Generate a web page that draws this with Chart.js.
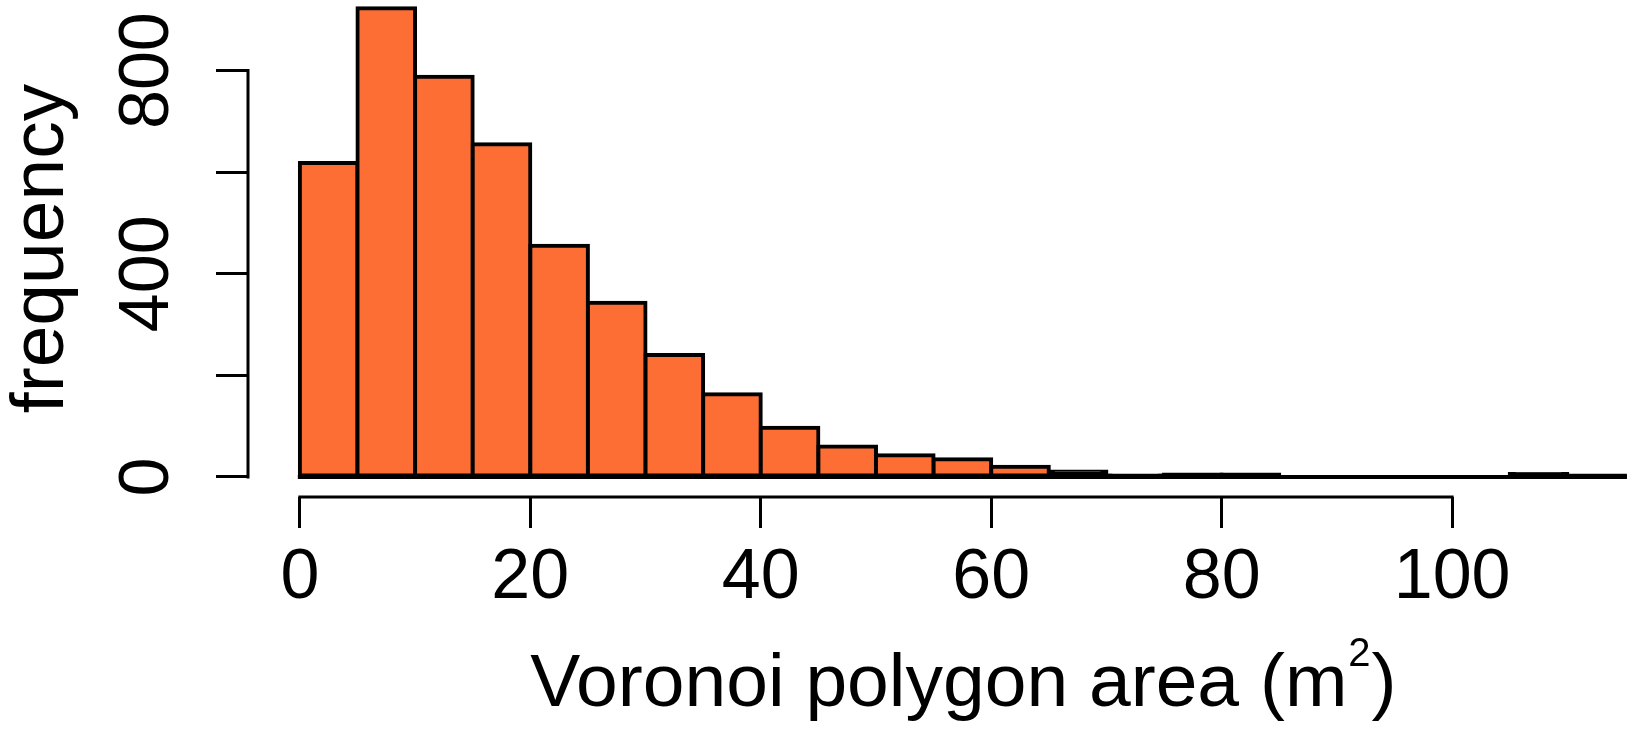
<!DOCTYPE html>
<html>
<head>
<meta charset="utf-8">
<title>Voronoi polygon area</title>
<script src="https://cdn.jsdelivr.net/npm/chart.js@4.4.1/dist/chart.umd.min.js"></script>
<style>
    body { margin: 0; background: #fff; }
    canvas { display: block; }
</style>
</head>
<body>
<canvas id="chart" width="1633" height="729"></canvas>
<script>
// histogram bins, 5 m2 wide
const binWidth = 5;
const binStarts = [0, 5, 10, 15, 20, 25, 30, 35, 40, 45, 50, 55, 60, 65, 70, 75, 80, 85, 90, 95, 100, 105, 110];
const counts = [618, 923, 788, 655, 455, 343, 240, 163, 97, 60, 43, 35, 20, 11, 3, 5, 5, 0, 0, 0, 0, 6, 1];

const xTicks = [0, 20, 40, 60, 80, 100];
const yTicks = [0, 200, 400, 600, 800];
const yTickLabels = ['0', '', '400', '', '800'];

const xTitle = 'Voronoi polygon area (m';
const xTitleSup = '2';
const xTitleEnd = ')';
const yTitle = 'frequency';

const fontFamily = "'Liberation Sans', Arial, sans-serif";
const barFill = '#FD6E35';
const barBorder = 4;

// R draws axes detached from the bars, lines only from first to last tick
const rAxes = {
    id: 'rAxes',
    afterDatasetsDraw(chart) {
        const x = chart.scales.x;
        const y = chart.scales.y;
        const c = chart.ctx;
        const y0 = y.getPixelForValue(0);
        c.save();
        c.strokeStyle = '#000';
        c.lineWidth = barBorder;
        c.beginPath();
        c.moveTo(x.getPixelForValue(binStarts[0]) - 2, y0);
        c.lineTo(x.getPixelForValue(binStarts[binStarts.length - 1] + binWidth) + 2, y0);
        c.stroke();
        c.restore();
    },
    afterDraw(chart) {
        const c = chart.ctx;
        const area = chart.chartArea;
        const x = chart.scales.x;
        const y = chart.scales.y;
        c.save();
        c.strokeStyle = '#000';
        c.lineWidth = 3;
        c.beginPath();
        c.moveTo(x.getPixelForValue(xTicks[0]) - 1.5, area.bottom);
        c.lineTo(x.getPixelForValue(xTicks[xTicks.length - 1]) + 1.5, area.bottom);
        c.moveTo(area.left, y.getPixelForValue(yTicks[0]) + 1.5);
        c.lineTo(area.left, y.getPixelForValue(yTicks[yTicks.length - 1]) - 1.5);
        c.stroke();

        // x title with a real superscript
        c.fillStyle = '#000';
        c.textBaseline = 'alphabetic';
        c.textAlign = 'left';
        c.font = '75px ' + fontFamily;
        const w1 = c.measureText(xTitle).width;
        const w3 = c.measureText(xTitleEnd).width;
        c.font = '40px ' + fontFamily;
        const w2 = c.measureText(xTitleSup).width;
        const tx = x.getPixelForValue(57.5) - (w1 + w2 + w3) / 2;
        const ty = area.bottom + 209;
        c.font = '75px ' + fontFamily;
        c.fillText(xTitle, tx, ty);
        c.font = '40px ' + fontFamily;
        c.fillText(xTitleSup, tx + w1 + 1, ty - 40);
        c.font = '75px ' + fontFamily;
        c.fillText(xTitleEnd, tx + w1 + w2 + 2, ty);
        c.restore();
    }
};

// very short bars are all border in R, so paint them black
function fillFor(context) {
    const y = context.chart.scales.y;
    const v = context.raw ? context.raw.y : 0;
    if (!y) return barFill;
    const h = y.getPixelForValue(0) - y.getPixelForValue(v);
    return h < barBorder * 1.5 ? '#000' : barFill;
}

var ctx = document.getElementById('chart').getContext('2d');
var chart = new Chart(ctx, {
    type: 'bar',
    data: {
        datasets: [{
            data: binStarts.map((s, i) => ({ x: s + binWidth / 2, y: counts[i] })),
            backgroundColor: fillFor,
            borderColor: '#000',
            borderWidth: barBorder,
            borderSkipped: false,
            inflateAmount: barBorder / 2,
            barPercentage: 1,
            categoryPercentage: 1
        }]
    },
    options: {
        responsive: false,
        devicePixelRatio: 1,
        animation: false,
        layout: { padding: 0 },
        plugins: {
            legend: { display: false },
            tooltip: { enabled: false }
        },
        scales: {
            x: {
                type: 'linear',
                min: -4.5,
                max: 115.7,
                offset: false,
                border: { display: false },
                grid: {
                    offset: false,
                    drawOnChartArea: false,
                    color: '#000',
                    lineWidth: 3,
                    tickLength: 31
                },
                afterBuildTicks: (scale) => {
                    scale.ticks = xTicks.map(v => ({ value: v }));
                },
                afterFit: (scale) => {
                    scale.height = 232;
                    scale.paddingLeft = 0;
                    scale.paddingRight = 0;
                },
                ticks: {
                    autoSkip: false,
                    minRotation: 0,
                    maxRotation: 0,
                    padding: 9,
                    color: '#000',
                    font: { family: fontFamily, size: 70, lineHeight: 1.2 }
                }
            },
            y: {
                min: -39.4,
                max: 939,
                border: { display: false },
                grid: {
                    drawOnChartArea: false,
                    color: '#000',
                    lineWidth: 3,
                    tickLength: 32
                },
                afterBuildTicks: (scale) => {
                    scale.ticks = yTicks.map(v => ({ value: v }));
                },
                afterFit: (scale) => {
                    scale.width = 248;
                    scale.paddingTop = 0;
                    scale.paddingBottom = 0;
                },
                ticks: {
                    autoSkip: false,
                    minRotation: 90,
                    maxRotation: 90,
                    crossAlign: 'center',
                    padding: 9,
                    color: '#000',
                    font: { family: fontFamily, size: 70, lineHeight: 1.2 },
                    callback: (value, index) => yTickLabels[index]
                },
                title: {
                    display: true,
                    text: yTitle,
                    color: '#000',
                    font: { family: fontFamily, size: 75, lineHeight: 1 },
                    padding: { top: 4.5, bottom: 0 }
                }
            }
        }
    },
    plugins: [rAxes]
});
</script>
</body>
</html>
